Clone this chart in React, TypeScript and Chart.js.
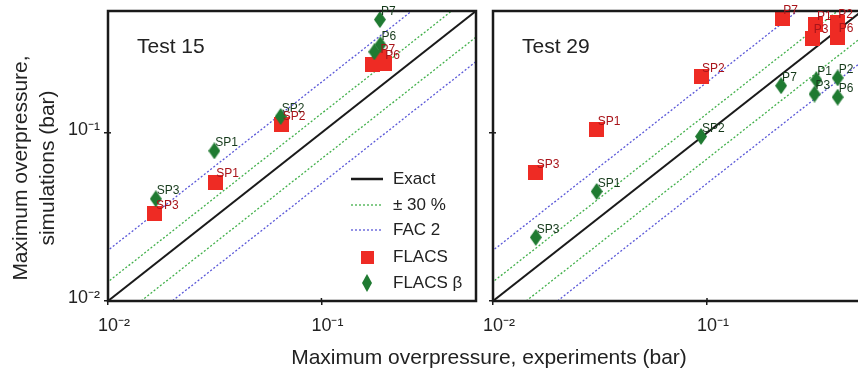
import React, { useEffect, useRef } from "react";
import { Chart, registerables } from "chart.js";

Chart.register(...registerables);

const FONT = '"Liberation Sans", Arial, Helvetica, sans-serif';

// axis range and ticks
const AXIS_MIN = 0.01;
const AXIS_MAX = 0.53;
const TICK_VALUES = [0.01, 0.1];
const TICK_LABELS = ["10\u207B\u00B2", "10\u207B\u00B9"];

// reference lines: y = factor * x
const LINE_X = [0.005, 1];
const EXACT_FACTOR = 1;
const PCT30_FACTORS = [1.3, 0.7];
const FAC2_FACTORS = [2, 0.5];

const PANEL_TITLES = ["Test 15", "Test 29"];
const LEGEND_LABELS = ["Exact", "\u00B1 30 %", "FAC 2", "FLACS", "FLACS \u03B2"];

// Test 15
const T15_FLACS_NAMES = ["SP3", "SP1", "SP2", "P7", "P6", ""];
const T15_FLACS_EXP = [0.0166, 0.0318, 0.0652, 0.187, 0.197, 0.173];
const T15_FLACS_SIM = [0.033, 0.0509, 0.1116, 0.2795, 0.2577, 0.254];

const T15_BETA_NAMES = ["SP3", "SP1", "SP2", "P7", "P6", ""];
const T15_BETA_EXP = [0.01675, 0.0315, 0.0644, 0.188, 0.189, 0.177];
const T15_BETA_SIM = [0.0405, 0.0781, 0.125, 0.471, 0.334, 0.303];

// Test 29
const T29_FLACS_NAMES = ["SP3", "SP1", "SP2", "P7", "P1", "P3", "P2", "P6"];
const T29_FLACS_EXP = [0.01585, 0.0305, 0.0938, 0.225, 0.323, 0.312, 0.406, 0.408];
const T29_FLACS_SIM = [0.0583, 0.105, 0.215, 0.477, 0.44, 0.366, 0.45, 0.371];

const T29_BETA_NAMES = ["SP3", "SP1", "SP2", "P7", "P1", "P3", "P2", "P6"];
const T29_BETA_EXP = [0.01585, 0.0305, 0.0938, 0.222, 0.324, 0.318, 0.408, 0.408];
const T29_BETA_SIM = [0.0239, 0.0448, 0.0951, 0.1905, 0.2066, 0.17, 0.212, 0.163];

const RED = "#ee2b24";
const GREEN = "#1f7a31";
const RED_LABEL = "#a8141a";
const GREEN_LABEL = "#163a1b";
const LINE_GREEN = "#42b04b";
const LINE_BLUE = "#5a58d8";
const BLACK = "#1a1a1a";

function makeSquare(size: number, color: string) {
  const c = document.createElement("canvas");
  c.width = size;
  c.height = size;
  const ctx = c.getContext("2d")!;
  ctx.fillStyle = color;
  ctx.fillRect(0, 0, size, size);
  return c;
}

function makeDiamond(w: number, h: number, color: string) {
  const c = document.createElement("canvas");
  c.width = w;
  c.height = h;
  const ctx = c.getContext("2d")!;
  ctx.fillStyle = color;
  ctx.beginPath();
  ctx.moveTo(w / 2, 0);
  ctx.lineTo(w, h / 2);
  ctx.lineTo(w / 2, h);
  ctx.lineTo(0, h / 2);
  ctx.closePath();
  ctx.fill();
  return c;
}

function lineData(f: number) {
  return LINE_X.map((x) => ({ x, y: x * f }));
}

function points(xs: number[], ys: number[]) {
  return xs.map((x, i) => ({ x, y: ys[i] }));
}

const framePlugin = {
  id: "frame",
  afterDatasetsDraw(chart: any) {
    const { ctx, chartArea } = chart;
    ctx.save();
    ctx.strokeStyle = BLACK;
    ctx.lineWidth = 2.5;
    ctx.strokeRect(chartArea.left, chartArea.top, chartArea.right - chartArea.left, chartArea.bottom - chartArea.top);
    // inward tick marks
    ctx.lineWidth = 1.5;
    const xs = chart.scales.x;
    const ys = chart.scales.y;
    TICK_VALUES.forEach((v) => {
      const px = xs.getPixelForValue(v);
      ctx.beginPath();
      ctx.moveTo(px, chartArea.bottom);
      ctx.lineTo(px, chartArea.bottom - 3);
      ctx.stroke();
      const py = ys.getPixelForValue(v);
      ctx.beginPath();
      ctx.moveTo(chartArea.left, py);
      ctx.lineTo(chartArea.left + 3, py);
      ctx.stroke();
    });
    ctx.restore();
  },
};

const labelPlugin = {
  id: "pointLabels",
  afterDatasetsDraw(chart: any) {
    const { ctx } = chart;
    ctx.save();
    ctx.font = `12px ${FONT}`;
    ctx.textAlign = "left";
    ctx.textBaseline = "middle";
    chart.data.datasets.forEach((ds: any, i: number) => {
      if (!ds.pointNames) return;
      const meta = chart.getDatasetMeta(i);
      ctx.fillStyle = ds.labelColor;
      meta.data.forEach((el: any, j: number) => {
        const name = ds.pointNames[j];
        if (name) ctx.fillText(name, el.x + 1, el.y - 8);
      });
    });
    const title = chart.options.plugins.panelTitle;
    if (title) {
      ctx.fillStyle = "#222";
      ctx.font = `21px ${FONT}`;
      ctx.fillText(title, chart.chartArea.left + 29, chart.chartArea.top + 36);
    }
    ctx.restore();
  },
};

const legendPlugin = {
  id: "insideLegend",
  afterDraw(chart: any) {
    if (!chart.options.plugins.insideLegend) return;
    const { ctx, chartArea } = chart;
    const x0 = chartArea.right - 125;
    const x1 = chartArea.right - 93;
    const tx = chartArea.right - 83;
    const rows = [122, 96, 71, 44, 18].map((d) => chartArea.bottom - d);
    ctx.save();
    ctx.font = `17px ${FONT}`;
    ctx.textBaseline = "middle";
    ctx.textAlign = "left";
    ctx.fillStyle = "#222";
    const drawLine = (y: number, color: string, w: number, dash: number[]) => {
      ctx.strokeStyle = color;
      ctx.lineWidth = w;
      ctx.setLineDash(dash);
      ctx.beginPath();
      ctx.moveTo(x0, y);
      ctx.lineTo(x1, y);
      ctx.stroke();
      ctx.setLineDash([]);
    };
    drawLine(rows[0], BLACK, 2.5, []);
    drawLine(rows[1], LINE_GREEN, 1.3, [2, 2]);
    drawLine(rows[2], LINE_BLUE, 1.3, [2, 2]);
    const cx = (x0 + x1) / 2;
    ctx.drawImage(chart.options.plugins.insideLegend.square, cx - 6.5, rows[3] - 6.5);
    ctx.drawImage(chart.options.plugins.insideLegend.diamond, cx - 5, rows[4] - 9);
    LEGEND_LABELS.forEach((t, i) => ctx.fillText(t, tx, rows[i]));
    ctx.restore();
  },
};

function buildConfig(panel: number) {
  const isLeft = panel === 0;
  const squareImg = makeSquare(15, RED);
  const diamondImg = makeDiamond(12, 17, GREEN);
  const flacsNames = isLeft ? T15_FLACS_NAMES : T29_FLACS_NAMES;
  const flacs = isLeft ? points(T15_FLACS_EXP, T15_FLACS_SIM) : points(T29_FLACS_EXP, T29_FLACS_SIM);
  const betaNames = isLeft ? T15_BETA_NAMES : T29_BETA_NAMES;
  const beta = isLeft ? points(T15_BETA_EXP, T15_BETA_SIM) : points(T29_BETA_EXP, T29_BETA_SIM);

  const lineDs = (label: string, f: number, color: string, w: number, dash: number[], order: number) => ({
    type: "line",
    label,
    data: lineData(f),
    borderColor: color,
    borderWidth: w,
    borderDash: dash,
    pointRadius: 0,
    showLine: true,
    fill: false,
    order,
  });

  const tickFont = { family: FONT, size: 18 };

  return {
    type: "scatter",
    data: {
      datasets: [
        {
          label: "FLACS \u03B2",
          data: beta,
          pointStyle: diamondImg,
          pointRadius: 9,
          backgroundColor: GREEN,
          borderColor: GREEN,
          order: 0,
          pointNames: betaNames,
          labelColor: GREEN_LABEL,
        },
        {
          label: "FLACS",
          data: flacs,
          pointStyle: squareImg,
          pointRadius: 9,
          backgroundColor: RED,
          borderColor: RED,
          order: 1,
          pointNames: flacsNames,
          labelColor: RED_LABEL,
        },
        lineDs("Exact", EXACT_FACTOR, BLACK, 2, [], 2),
        lineDs("\u00B1 30 %", PCT30_FACTORS[0], LINE_GREEN, 1.3, [2, 2], 3),
        lineDs("\u00B1 30 % (lower)", PCT30_FACTORS[1], LINE_GREEN, 1.3, [2, 2], 4),
        lineDs("FAC 2", FAC2_FACTORS[0], LINE_BLUE, 1.3, [2, 2], 5),
        lineDs("FAC 2 (lower)", FAC2_FACTORS[1], LINE_BLUE, 1.3, [2, 2], 6),
      ],
    },
    options: {
      responsive: false,
      animation: false,
      devicePixelRatio: 1,
      layout: { padding: { top: 11, right: 8, left: 0, bottom: 0 } },
      plugins: {
        legend: { display: false },
        tooltip: { enabled: false },
        panelTitle: PANEL_TITLES[panel],
        insideLegend: isLeft ? { square: makeSquare(13, RED), diamond: makeDiamond(10, 18, GREEN) } : null,
      },
      scales: {
        x: {
          type: "logarithmic",
          min: AXIS_MIN,
          max: AXIS_MAX,
          border: { display: false },
          grid: { drawOnChartArea: false, drawTicks: true, tickLength: 4, color: BLACK, lineWidth: 1.5 },
          ticks: {
            autoSkip: false,
            font: tickFont,
            color: "#222",
            maxRotation: 0,
            align: "start",
            labelOffset: -10,
            padding: 10,
            callback: (_v: any, i: number) => TICK_LABELS[i],
          },
          afterBuildTicks: (s: any) => {
            s.ticks = TICK_VALUES.map((v) => ({ value: v, major: true }));
          },
          afterFit: (s: any) => {
            s.height = 70;
            s.paddingLeft = 0;
            s.paddingRight = 0;
          },
        },
        y: {
          type: "logarithmic",
          min: AXIS_MIN,
          max: AXIS_MAX,
          border: { display: false },
          grid: { drawOnChartArea: false, drawTicks: true, tickLength: 4, color: BLACK, lineWidth: 1.5 },
          ticks: {
            display: isLeft,
            autoSkip: false,
            font: tickFont,
            color: "#222",
            padding: 4,
            labelOffset: -3,
            callback: (_v: any, i: number) => TICK_LABELS[i],
          },
          afterBuildTicks: (s: any) => {
            s.ticks = TICK_VALUES.map((v) => ({ value: v, major: true }));
          },
          afterFit: (s: any) => {
            s.width = isLeft ? 108 : 13;
            s.paddingTop = 0;
            s.paddingBottom = 0;
          },
        },
      },
    },
    plugins: [framePlugin, labelPlugin, legendPlugin],
  };
}

function Panel({ panel, left, width }: { panel: number; left: number; width: number }) {
  const ref = useRef<HTMLCanvasElement>(null);
  useEffect(() => {
    const chart = new Chart(ref.current!, buildConfig(panel) as any);
    return () => chart.destroy();
  }, [panel]);
  return (
    <canvas
      ref={ref}
      width={width}
      height={371}
      style={{ position: "absolute", left, top: 0, width, height: 371 }}
    />
  );
}

export default function App() {
  return (
    <div
      style={{
        position: "fixed",
        left: 0,
        top: 0,
        width: 858,
        height: 371,
        overflow: "hidden",
        background: "#fff",
        fontFamily: FONT,
        color: "#222",
      }}
    >
      <Panel panel={0} left={0} width={486} />
      <Panel panel={1} left={480} width={392} />
      <div
        style={{
          position: "absolute",
          left: 33 - 150,
          top: 168 - 27,
          width: 300,
          height: 54,
          lineHeight: "27px",
          fontSize: 21,
          textAlign: "center",
          transform: "rotate(-90deg)",
          transformOrigin: "50% 50%",
          whiteSpace: "nowrap",
        }}
      >
        Maximum overpressure,
        <br />
        simulations (bar)
      </div>
      <div
        style={{
          position: "absolute",
          left: 489,
          top: 345,
          transform: "translateX(-50%)",
          fontSize: 21,
          lineHeight: "24px",
          whiteSpace: "nowrap",
        }}
      >
        Maximum overpressure, experiments (bar)
      </div>
    </div>
  );
}
